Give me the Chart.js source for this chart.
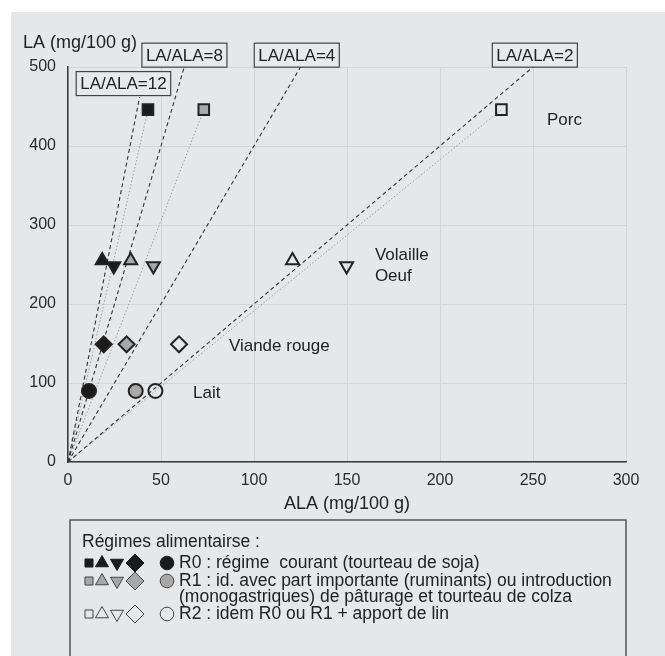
<!DOCTYPE html>
<html>
<head>
<meta charset="utf-8">
<script src="https://cdn.jsdelivr.net/npm/chart.js@4.4.0/dist/chart.umd.min.js"></script>
<style>
body { margin: 0; background: #fff; }
#wrap { position: absolute; left: 11px; top: 12px; width: 654px; height: 644px; background: #e6e7e9; }
</style>
</head>
<body>
<div id="wrap"><canvas id="chart" width="654" height="644"></canvas></div>
<script>
/****************** DONNEES **********************/

var foods = ["Porc", "Volaille", "Oeuf", "Viande rouge", "Lait"];
var foodShapes = ["rect", "triangle", "triangle", "rectRot", "circle"];
var foodRotations = [0, 0, 180, 0, 0];
var laValues = [446, 255, 248, 149, 90];      // LA (mg/100 g)
var alaR0 = [43, 18.4, 24.6, 19.2, 11.3];     // ALA, regime R0
var alaR1 = [73, 33.7, 45.9, 31.5, 36.4];     // ALA, regime R1
var alaR2 = [233, 120.7, 149.8, 59.7, 47];    // ALA, regime R2

var foodLabelALA = [257.5, 165, 165, 86.5, 67.2];
var foodLabelLA = [432, 261, 235, 147, 87];

var ratios = [12, 8, 4, 2];
var ratioTopLA = [462, 500, 500, 500];
var ratioLabels = ["LA/ALA=12", "LA/ALA=8", "LA/ALA=4", "LA/ALA=2"];
var ratioLabelALA = [29.8, 62.6, 123, 251];
var ratioLabelLA = [479, 515, 515, 515];

var regimes = ["R0", "R1", "R2"];
var regimeFill = ["#1b1b1b", "#a8a8a8", "rgba(0,0,0,0)"];
var regimeText = [
    ["R0 : régime  courant (tourteau de soja)"],
    ["R1 : id. avec part importante (ruminants) ou introduction",
     "(monogastriques) de pâturage et tourteau de colza"],
    ["R2 : idem R0 ou R1 + apport de lin"]
];

/****************** FONCTIONS **********************/

function points(ala)
{
    return ala.map(function (x, i) { return { x: x, y: laValues[i] }; });
}

function buildDatasets()
{
    var sets = [];
    [alaR0, alaR1, alaR2].forEach(function (ala, r) {
        sets.push({
            label: regimes[r],
            data: points(ala),
            pointStyle: foodShapes,
            rotation: foodRotations,
            pointRadius: [7.5, 7.5, 7.5, 8, 7],
            backgroundColor: regimeFill[r],
            borderColor: "#222",
            borderWidth: 2,
            showLine: false,
            order: 0
        });
    });
    // lignes pointillees de l'origine au porc
    [alaR0, alaR1, alaR2].forEach(function (ala) {
        sets.push({
            data: [{ x: 0, y: 0 }, { x: ala[0], y: laValues[0] }],
            showLine: true,
            pointRadius: 0,
            borderColor: "#9c9c9c",
            borderWidth: 1,
            borderDash: [1.5, 2],
            order: 2
        });
    });
    // droites LA/ALA
    ratios.forEach(function (r, i) {
        sets.push({
            data: [{ x: 0, y: 0 }, { x: ratioTopLA[i] / r, y: ratioTopLA[i] }],
            showLine: true,
            pointRadius: 0,
            borderColor: "#333",
            borderWidth: 1.1,
            borderDash: [4, 3],
            order: 1
        });
    });
    return sets;
}

var annotations = {
    id: "annotations",
    afterDraw: function (chart) {
        var ctx = chart.ctx;
        var xs = chart.scales.x, ys = chart.scales.y;
        ctx.save();
        ctx.fillStyle = "#222";
        ctx.textBaseline = "middle";

        // titre axe Y
        ctx.font = "18px 'Liberation Sans', Arial, sans-serif";
        ctx.textAlign = "left";
        ctx.fillText("LA (mg/100 g)", 12, 31);

        // noms des aliments
        ctx.font = "17px 'Liberation Sans', Arial, sans-serif";
        foods.forEach(function (f, i) {
            ctx.fillText(f, xs.getPixelForValue(foodLabelALA[i]), ys.getPixelForValue(foodLabelLA[i]));
        });

        // etiquettes des droites
        ctx.textAlign = "center";
        ratioLabels.forEach(function (t, i) {
            var cx = xs.getPixelForValue(ratioLabelALA[i]);
            var cy = ys.getPixelForValue(ratioLabelLA[i]);
            var w = ctx.measureText(t).width + 8;
            ctx.fillStyle = "#e8e9eb";
            ctx.fillRect(cx - w / 2, cy - 12, w, 24);
            ctx.strokeStyle = "#444";
            ctx.lineWidth = 1.2;
            ctx.strokeRect(cx - w / 2, cy - 12, w, 24);
            ctx.fillStyle = "#222";
            ctx.fillText(t, cx, cy + 1);
        });

        // legende
        ctx.strokeStyle = "#555";
        ctx.lineWidth = 1.5;
        ctx.strokeRect(59, 508, 556, 200);
        ctx.textAlign = "left";
        ctx.font = "17.5px 'Liberation Sans', Arial, sans-serif";
        ctx.fillStyle = "#222";
        ctx.fillText("Régimes alimentairse :", 71, 530);

        var symX = [78, 91, 106, 124, 156];
        var symR = [5.7, 7.5, 7.5, 9, 6.8];
        var rowY = [551, 569, 602];
        regimes.forEach(function (r, k) {
            foodShapes.forEach(function (s, i) {
                ctx.fillStyle = k === 2 ? "rgba(0,0,0,0)" : regimeFill[k];
                ctx.strokeStyle = k === 0 ? "#1b1b1b" : "#444";
                ctx.lineWidth = 1;
                Chart.helpers.drawPoint(ctx, {
                    pointStyle: s, rotation: foodRotations[i], radius: symR[i], borderWidth: 1
                }, symX[i], rowY[k]);
            });
            ctx.fillStyle = "#222";
            regimeText[k].forEach(function (line, j) {
                ctx.fillText(line, 168, rowY[k] + j * 16.5);
            });
        });
        ctx.restore();
    }
};

function makeChart()
{
    Chart.defaults.font.family = "'Liberation Sans', Arial, sans-serif";
    Chart.defaults.color = "#222";

    var ctx = document.getElementById("chart").getContext("2d");
    new Chart(ctx, {
        type: "scatter",
        data: { datasets: buildDatasets() },
        plugins: [annotations],
        options: {
            responsive: false,
            animation: false,
            layout: { padding: { left: 0, top: 55, right: 39, bottom: 137 } },
            plugins: { legend: { display: false }, tooltip: { enabled: false } },
            scales: {
                x: {
                    min: 0, max: 300,
                    afterFit: function (s) { s.height = 57; },
                    ticks: { stepSize: 50, font: { size: 16 }, padding: 9, color: "#2a2a2a" },
                    grid: { color: "#d3d4d6", drawTicks: false },
                    border: { color: "#3a3a3a", width: 1.5 },
                    title: { display: true, text: "ALA (mg/100 g)", font: { size: 18 }, color: "#222" }
                },
                y: {
                    min: 0, max: 500,
                    afterFit: function (s) { s.width = 57; },
                    ticks: { stepSize: 100, font: { size: 16 }, padding: 12, color: "#2a2a2a" },
                    grid: { color: "#d3d4d6", drawTicks: false },
                    border: { color: "#3a3a3a", width: 1.5 }
                }
            }
        }
    });
}

makeChart();
</script>
</body>
</html>
